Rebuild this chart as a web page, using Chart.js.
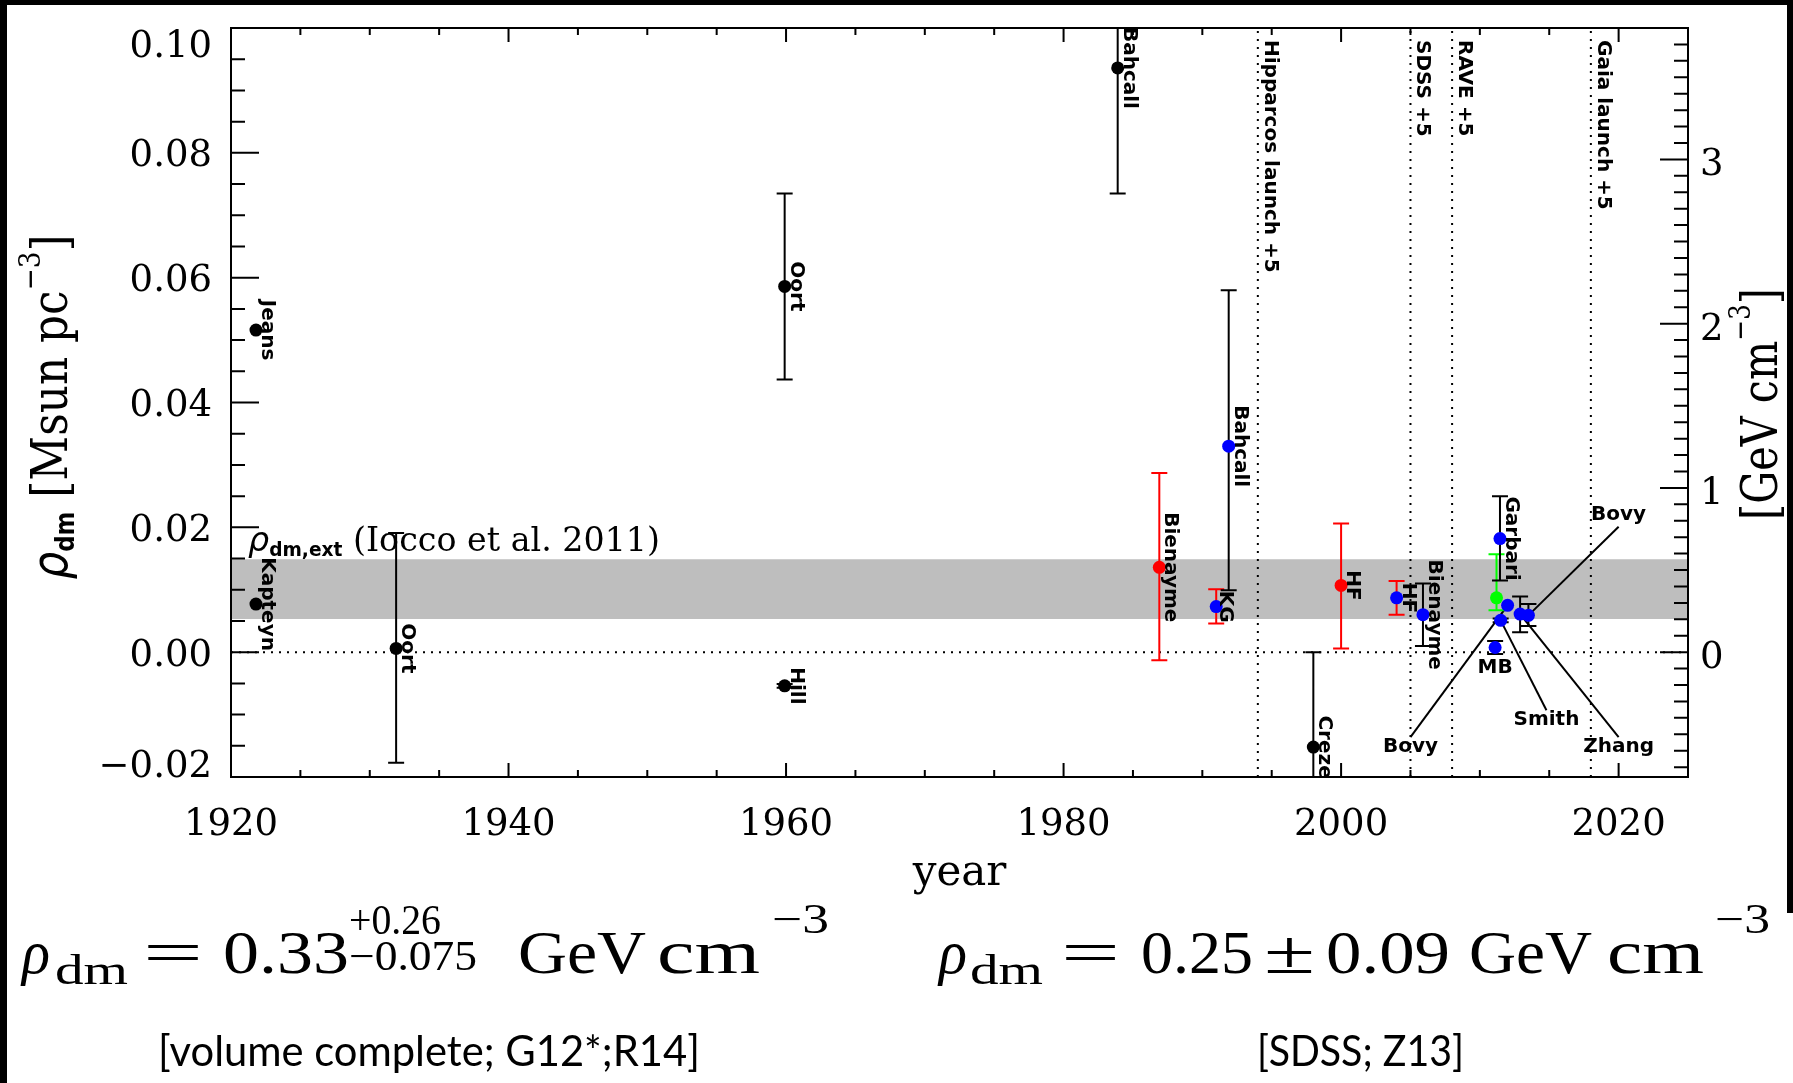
<!DOCTYPE html>
<html lang="en">
<head>
<meta charset="UTF-8">
<title>Local dark matter density measurements vs year</title>
<script src="https://cdn.jsdelivr.net/npm/chart.js"></script>
<style>
  html, body { margin: 0; padding: 0; background: #000; }
  canvas { display: block; }
</style>
</head>
<body>
<canvas id="chart" width="1793" height="1083"></canvas>
<script>
// ---- measurements: year, rho_dm [Msun pc^-3], error range ----
const blackYears = [1921.8, 1921.8, 1931.9, 1959.9, 1959.9, 1983.9, 1998.0];
const blackRho   = [0.0077, 0.0516, 0.0006, 0.0586, -0.0054, 0.0936, -0.0152];
const blackLo    = [null, null, -0.0177, 0.0437, -0.0057, 0.0735, -0.0300];
const blackHi    = [null, null, 0.0191, 0.0735, -0.0051, 0.1100, 0.0000];
const blackNames = ['Kapteyn', 'Jeans', 'Oort', 'Oort', 'Hill', 'Bahcall', 'Creze'];

const redYears = [1986.9, 2000.0];
const redRho   = [0.0136, 0.0107];
const redLo    = [-0.0013, 0.0006];
const redHi    = [0.0287, 0.0206];
const redNames = ['Bienayme', 'HF'];

// blue points that carry red error bars
const blueRedYears = [1991.0, 2004.0];
const blueRedRho   = [0.0073, 0.0087];
const blueRedLo    = [0.0046, 0.0060];
const blueRedHi    = [0.0101, 0.0114];
const blueRedNames = ['KG', 'HF'];

const blueYears = [1991.9, 2005.9, 2011.45, 2012.0, 2011.5, 2011.1, 2012.9, 2013.5];
const blueRho   = [0.0330, 0.0060, 0.0182, 0.0075, 0.0051, 0.00075, 0.0061, 0.0059];
const blueLo    = [0.0099, 0.0010, 0.0115, null, 0.0048, -0.0003, 0.0032, 0.0042];
const blueHi    = [0.0580, 0.0110, 0.0250, null, 0.0054, 0.0018, 0.0089, 0.0077];
const blueNames = ['Bahcall', 'Bienayme', 'Garbari', '', '', 'MB', '', ''];

const greenYears = [2011.2];
const greenRho   = [0.0087];
const greenLo    = [0.0067];
const greenHi    = [0.0157];
const greenNames = [''];

// labels joined to their point by a line
const leaderNames    = ['Bovy', 'Smith', 'Zhang', 'Bovy'];
const leaderFromYear = [2012.0, 2011.5, 2012.9, 2013.5];
const leaderFromRho  = [0.0075, 0.0051, 0.0061, 0.0059];
const leaderToYear   = [2005.0, 2014.8, 2020.0, 2020.0];
const leaderToRho    = [-0.0136, -0.0093, -0.0136, 0.0201];

// survey epochs
const missionYears = [1994, 2005, 2008, 2018];
const missionNames = ['Hipparcos launch +5', 'SDSS +5', 'RAVE +5', 'Gaia launch +5'];

// rho_dm,ext band (Iocco et al. 2011)
const ioccoLo = 0.0053;
const ioccoHi = 0.0149;

// axes
const yearMin = 1920, yearMax = 2025;
const rhoMin = -0.02, rhoMax = 0.10;
const yearTicks = [1920, 1940, 1960, 1980, 2000, 2020];
const rhoTicks = [-0.02, 0.00, 0.02, 0.04, 0.06, 0.08, 0.10];
const rhoTickLabels = ['\u22120.02', '0.00', '0.02', '0.04', '0.06', '0.08', '0.10'];
const gevTicks = [0, 1, 2, 3];
const GEV_PER_MSUN = 38.0;   // 1 Msun pc^-3 = 38 GeV cm^-3

const flatLabels = ['MB'];
const labelNudge = { KG: -2 };

const pts = (xs, ys) => xs.map((v, i) => ({ x: v, y: ys[i] }));
const seg = (x0, y0, x1, y1) => [{ x: x0, y: y0 }, { x: x1, y: y1 }];

function pointSet(xs, ys, lo, hi, names, colour, barColour, order) {
  return {
    data: pts(xs, ys), showLine: false, order,
    pointRadius: 6.5, pointBackgroundColor: colour, pointBorderColor: colour, pointBorderWidth: 0,
    errLo: lo, errHi: hi, errColor: barColour, names
  };
}

const datasets = [];
datasets.push({
  data: seg(yearMin, ioccoHi, yearMax, ioccoHi), showLine: true, order: 10,
  borderWidth: 0, borderColor: 'rgba(0,0,0,0)', pointRadius: 0,
  fill: { value: ioccoLo }, backgroundColor: '#bebebe'
});
datasets.push({
  data: seg(yearMin, 0, yearMax, 0), showLine: true, order: 9,
  borderWidth: 2, borderColor: '#000', borderDash: [2, 6], pointRadius: 0, fill: false
});
missionYears.forEach(yr => datasets.push({
  data: seg(yr, rhoMin, yr, rhoMax), showLine: true, order: 9,
  borderWidth: 2, borderColor: '#000', borderDash: [2, 6], pointRadius: 0, fill: false
}));
leaderNames.forEach((n, i) => datasets.push({
  data: seg(leaderFromYear[i], leaderFromRho[i], leaderToYear[i], leaderToRho[i]), showLine: true, order: 8,
  borderWidth: 2, borderColor: '#000', pointRadius: 0, fill: false
}));
datasets.push(pointSet(greenYears, greenRho, greenLo, greenHi, greenNames, '#00ff00', '#00ff00', 4));
datasets.push(pointSet(redYears, redRho, redLo, redHi, redNames, '#ff0000', '#ff0000', 3));
datasets.push(pointSet(blueRedYears, blueRedRho, blueRedLo, blueRedHi, blueRedNames, '#0000ff', '#ff0000', 2));
datasets.push(pointSet(blueYears, blueRho, blueLo, blueHi, blueNames, '#0000ff', '#000', 1));
datasets.push(pointSet(blackYears, blackRho, blackLo, blackHi, blackNames, '#000', '#000', 0));

// error bars drawn just under their own points
const errorBars = {
  id: 'errorBars',
  beforeDatasetDraw(chart, args) {
    const ds = chart.data.datasets[args.index];
    if (!ds.errLo) return;
    const { ctx, chartArea: a, scales: { x, y } } = chart;
    ctx.save();
    ctx.beginPath();
    ctx.rect(a.left, a.top, a.right - a.left, a.bottom - a.top);
    ctx.clip();
    ctx.strokeStyle = ds.errColor;
    ctx.lineWidth = 2;
    ctx.beginPath();
    ds.data.forEach((p, i) => {
      if (ds.errLo[i] == null) return;
      const px = x.getPixelForValue(p.x);
      const yl = y.getPixelForValue(ds.errLo[i]), yh = y.getPixelForValue(ds.errHi[i]);
      ctx.moveTo(px, yl); ctx.lineTo(px, yh);
      ctx.moveTo(px - 8, yl); ctx.lineTo(px + 8, yl);
      ctx.moveTo(px - 8, yh); ctx.lineTo(px + 8, yh);
    });
    ctx.stroke();
    ctx.restore();
  }
};

// text run of several fonts, squeezed/stretched to a target length
function drawRun(ctx, pieces, x0, y0, target, centred) {
  let total = 0;
  const widths = pieces.map(p => { ctx.font = p[1]; const w = ctx.measureText(p[0]).width; total += w; return w; });
  const s = target ? target / total : 1;
  ctx.save();
  ctx.translate(x0, y0);
  ctx.scale(s, 1);
  ctx.textAlign = 'left';
  ctx.textBaseline = 'alphabetic';
  let cx = centred ? -total / 2 : 0;
  pieces.forEach((p, i) => { ctx.font = p[1]; ctx.fillText(p[0], cx, p[2] || 0); cx += widths[i]; });
  ctx.restore();
}

function fitText(ctx, text, font, left, base, width) {
  ctx.save();
  ctx.font = font;
  const w = ctx.measureText(text).width;
  ctx.translate(left, base);
  ctx.scale(width / w, 1);
  ctx.textAlign = 'left';
  ctx.textBaseline = 'alphabetic';
  ctx.fillText(text, 0, 0);
  ctx.restore();
}

const SERIF = '"DejaVu Serif"';
const LABEL = 'bold 20px "DejaVu Sans"';
const TEX = '"Liberation Serif"';

const decorations = {
  id: 'decorations',
  beforeDraw(chart) {
    const ctx = chart.ctx;
    ctx.save();
    ctx.fillStyle = '#000';
    ctx.fillRect(0, 0, chart.width, chart.height);
    ctx.fillStyle = '#fff';
    ctx.fillRect(7, 5, 1780, 908);
    ctx.fillRect(7, 913, 1786, 170);
    ctx.restore();
  },
  afterDraw(chart) {
    const { ctx, chartArea: a, scales: { x, y } } = chart;
    ctx.save();
    ctx.fillStyle = '#000';
    ctx.strokeStyle = '#000';

    // rotated point labels
    ctx.font = LABEL;
    chart.data.datasets.forEach(ds => {
      if (!ds.names) return;
      ds.data.forEach((p, i) => {
        const n = ds.names[i];
        if (!n) return;
        const px = x.getPixelForValue(p.x), py = y.getPixelForValue(p.y);
        if (flatLabels.includes(n)) {
          ctx.textAlign = 'center'; ctx.textBaseline = 'alphabetic';
          ctx.fillText(n, px, py + 26);
          return;
        }
        ctx.save();
        ctx.translate(px + 6 + (labelNudge[n] || 0), py);
        ctx.rotate(Math.PI / 2);
        ctx.textAlign = 'center'; ctx.textBaseline = 'alphabetic';
        ctx.fillText(n, 0, 0);
        ctx.restore();
      });
    });

    // survey labels
    missionYears.forEach((yr, i) => {
      ctx.save();
      ctx.translate(x.getPixelForValue(yr) + 7, a.top + 12);
      ctx.rotate(Math.PI / 2);
      ctx.textAlign = 'left'; ctx.textBaseline = 'alphabetic';
      ctx.fillText(missionNames[i], 0, 0);
      ctx.restore();
    });

    // leader labels
    ctx.textAlign = 'center'; ctx.textBaseline = 'alphabetic';
    leaderNames.forEach((n, i) => {
      const ex = x.getPixelForValue(leaderToYear[i]), ey = y.getPixelForValue(leaderToRho[i]);
      const below = leaderToRho[i] < leaderFromRho[i];
      ctx.fillText(n, ex, below ? ey + 15 : ey - 7);
    });

    // band label
    drawRun(ctx, [
      ['\u03c1', 'italic 34px "DejaVu Sans"', 0],
      ['dm,ext', 'bold 19px "DejaVu Sans"', 5],
      [' (Iocco et al. 2011)', '34px ' + SERIF, 0]
    ], 248, 551, 412, false);

    // frame and inward ticks
    ctx.lineWidth = 2;
    ctx.strokeRect(a.left, a.top, a.right - a.left, a.bottom - a.top);
    ctx.beginPath();
    for (let yr = yearMin; yr <= yearMax; yr += 5) {
      const px = x.getPixelForValue(yr), len = (yr - yearMin) % 20 === 0 ? 14 : 7;
      ctx.moveTo(px, a.bottom); ctx.lineTo(px, a.bottom - len);
      ctx.moveTo(px, a.top); ctx.lineTo(px, a.top + len);
    }
    for (let k = Math.round(rhoMin / 0.005); k <= Math.round(rhoMax / 0.005); k++) {
      const py = y.getPixelForValue(k * 0.005), len = k % 4 === 0 ? 28 : 14;
      ctx.moveTo(a.left, py); ctx.lineTo(a.left + len, py);
    }
    for (let g = Math.ceil(rhoMin * GEV_PER_MSUN * 10); g <= Math.floor(rhoMax * GEV_PER_MSUN * 10); g++) {
      const py = y.getPixelForValue(g / 10 / GEV_PER_MSUN), len = g % 10 === 0 ? 28 : 14;
      ctx.moveTo(a.right, py); ctx.lineTo(a.right - len, py);
    }
    ctx.stroke();

    // tick labels
    ctx.font = '37px ' + SERIF;
    ctx.textBaseline = 'alphabetic';
    ctx.textAlign = 'right';
    rhoTicks.forEach((v, i) => {
      const py = Math.min(Math.max(y.getPixelForValue(v), a.top + 15), a.bottom - 14);
      ctx.fillText(rhoTickLabels[i], a.left - 19, py + 13.5);
    });
    ctx.textAlign = 'center';
    yearTicks.forEach(yr => ctx.fillText(String(yr), x.getPixelForValue(yr), a.bottom + 58));
    ctx.textAlign = 'left';
    gevTicks.forEach(g => ctx.fillText(String(g), a.right + 12, y.getPixelForValue(g / GEV_PER_MSUN) + 16));

    // axis titles
    ctx.font = '42px ' + SERIF;
    ctx.textAlign = 'center';
    ctx.fillText('year', (a.left + a.right) / 2, a.bottom + 108);

    ctx.save();
    ctx.translate(67, 407);
    ctx.rotate(-Math.PI / 2);
    drawRun(ctx, [
      ['\u03c1', 'italic 50px "DejaVu Sans"', 0],
      ['dm', 'bold 26px "DejaVu Sans"', 7],
      [' [Msun pc', '50px ' + SERIF, 0],
      ['\u22123', '30px ' + SERIF, -27],
      [']', '50px ' + SERIF, 0]
    ], 0, 0, 345, true);
    ctx.restore();

    ctx.save();
    ctx.translate(1777, 404);
    ctx.rotate(-Math.PI / 2);
    drawRun(ctx, [
      ['[GeV cm', '50px ' + SERIF, 0],
      ['\u22123', '30px ' + SERIF, -27],
      [']', '50px ' + SERIF, 0]
    ], 0, 0, 232, true);
    ctx.restore();

    // summary values below the plot
    const big = '62px ' + TEX, small = '42px ' + TEX;
    fitText(ctx, '\u03c1', 'italic ' + big, 22, 973, 28);
    fitText(ctx, 'dm', small, 55, 984, 73);
    fitText(ctx, '=', big, 143, 973, 60);
    fitText(ctx, '0.33', big, 223, 973, 126);
    fitText(ctx, '+0.26', small, 349, 934, 92);
    fitText(ctx, '\u22120.075', small, 349, 970, 128);
    fitText(ctx, 'GeV', big, 518, 973, 128);
    fitText(ctx, 'cm', big, 657, 973, 103);
    fitText(ctx, '\u22123', small, 772, 933, 57);

    fitText(ctx, '\u03c1', 'italic ' + big, 939, 973, 28);
    fitText(ctx, 'dm', small, 970, 984, 73);
    fitText(ctx, '=', big, 1061, 973, 59);
    fitText(ctx, '0.25', big, 1141, 973, 112);
    fitText(ctx, '\u00b1', big, 1264, 973, 51);
    fitText(ctx, '0.09', big, 1326, 973, 124);
    fitText(ctx, 'GeV', big, 1469, 973, 123);
    fitText(ctx, 'cm', big, 1607, 973, 97);
    fitText(ctx, '\u22123', small, 1715, 933, 55);

    fitText(ctx, '[volume complete; G12*;R14]', '42px Lato', 158, 1066, 542);
    fitText(ctx, '[SDSS; Z13]', '42px Lato', 1257, 1066, 207);

    ctx.restore();
  }
};

new Chart(document.getElementById('chart'), {
  type: 'scatter',
  data: { datasets },
  options: {
    responsive: false,
    animation: false,
    devicePixelRatio: 1,
    events: [],
    layout: { padding: { left: 231, right: 105, top: 28, bottom: 306 } },
    elements: { line: { tension: 0 } },
    scales: {
      x: { type: 'linear', min: yearMin, max: yearMax, display: false },
      y: { type: 'linear', min: rhoMin, max: rhoMax, display: false }
    },
    plugins: { legend: { display: false }, tooltip: { enabled: false } }
  },
  plugins: [errorBars, decorations]
});
</script>
</body>
</html>
